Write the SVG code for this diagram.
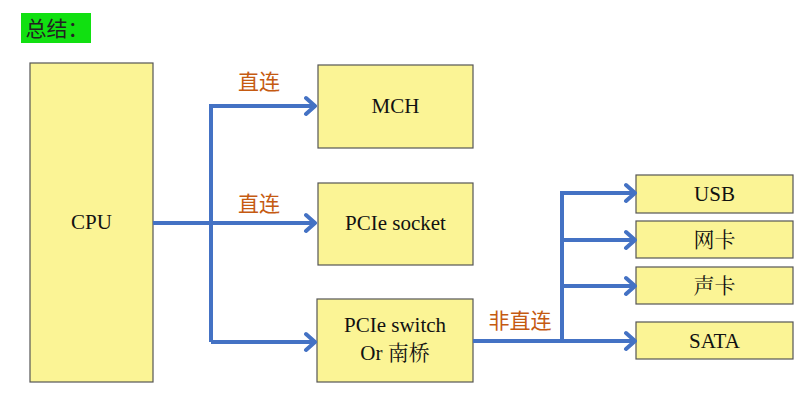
<svg xmlns="http://www.w3.org/2000/svg" width="811" height="404" viewBox="0 0 811 404">
<style>
.box{fill:#FBF495;stroke:#555;stroke-width:1.2}
.t{font-family:"Liberation Serif","Noto Serif CJK SC","Noto Sans CJK SC",serif;font-size:21px;fill:#111;text-anchor:middle}
.lbl{font-family:"Noto Sans CJK SC",sans-serif;font-size:21px;fill:#C55A11;text-anchor:middle}
.ln{fill:none;stroke:#4472C4;stroke-width:4;stroke-linejoin:miter}
.ah{fill:none;stroke:#4472C4;stroke-width:4;stroke-linecap:round;stroke-linejoin:round}
</style>
<rect width="811" height="404" fill="#fff"/>
<g id="title"><rect x="21" y="13" width="70" height="30" fill="#11E011"/><text x="57" y="36" font-family="Noto Sans CJK SC,sans-serif" font-size="21" fill="#222" text-anchor="middle">总结：</text></g>
<g id="cpu"><rect class="box" x="30" y="63" width="123" height="319"/><text class="t" x="91.5" y="229">CPU</text></g>
<g id="mch"><rect class="box" x="318" y="65" width="155" height="83"/><text class="t" x="395.5" y="113">MCH</text></g>
<g id="socket"><rect class="box" x="318" y="183" width="155" height="82"/><text class="t" x="395.5" y="230">PCIe socket</text></g>
<g id="switch"><rect class="box" x="317" y="299" width="156" height="83"/><text class="t" x="395" y="332">PCIe switch</text><text class="t" x="395" y="360">Or 南桥</text></g>
<g id="usb"><rect class="box" x="636" y="175" width="157" height="38"/><text class="t" x="714.5" y="201">USB</text></g>
<g id="nic"><rect class="box" x="636" y="221" width="157" height="37"/><text class="t" x="714.5" y="247">网卡</text></g>
<g id="sound"><rect class="box" x="636" y="267" width="157" height="37"/><text class="t" x="714.5" y="293">声卡</text></g>
<g id="sata"><rect class="box" x="636" y="322" width="157" height="37"/><text class="t" x="714.5" y="348">SATA</text></g>
<g id="connectors">
<path class="ln" d="M153 223H314M211 342V106H314M211 342H314"/>
<path class="ah" d="M306 98L315 106L306 114M306 215L315 223L306 231M306 334L315 342L306 350"/>
<path class="ln" d="M473 341H634M562 341V193H634M562 240H634M562 286H634"/>
<path class="ah" d="M626 185L635 193L626 201M626 232L635 240L626 248M626 278L635 286L626 294M626 333L635 341L626 349"/>
</g>
<g id="labels">
<text class="lbl" x="259" y="89">直连</text>
<text class="lbl" x="259" y="211">直连</text>
<text class="lbl" x="520" y="328">非直连</text>
</g>
</svg>
